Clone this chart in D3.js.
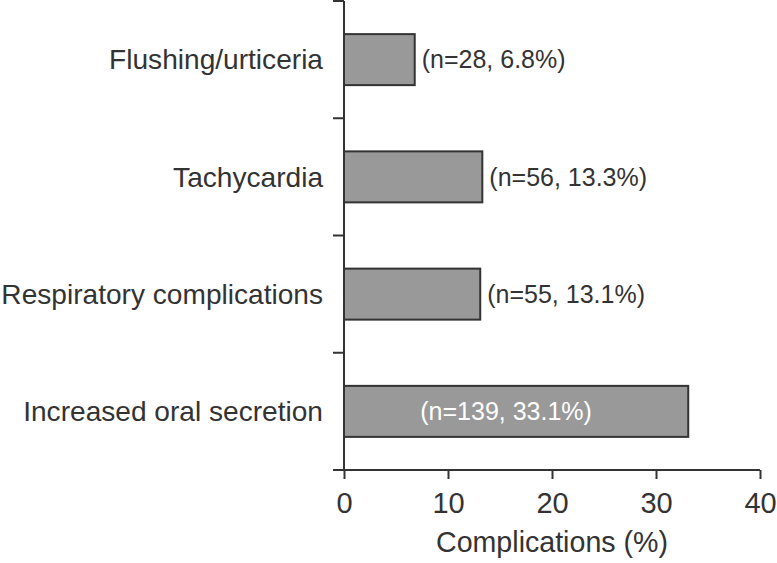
<!DOCTYPE html>
<html>
<head>
<meta charset="utf-8">
<script src="https://cdn.jsdelivr.net/npm/d3@7"></script>
<style>
  html, body { margin: 0; padding: 0; background: #fff; }
  svg { display: block; font-family: "Liberation Sans", Arial, Helvetica, sans-serif; }
</style>
</head>
<body>
<svg id="chart" width="777" height="563"></svg>
<script>
const categories = ["Flushing/urticeria", "Tachycardia", "Respiratory complications", "Increased oral secretion"];
const values = [6.8, 13.3, 13.1, 33.1];
const counts = [28, 56, 55, 139];
const xTicks = [0, 10, 20, 30, 40];
const xTitle = "Complications (%)";

const svg = d3.select("#chart");
const ink = "#333333";
const plotLeft = 344, plotRight = 760, plotTop = 1, plotBottom = 470;

const x = d3.scaleLinear().domain([0, 40]).range([plotLeft, plotRight]);
const y = d3.scaleBand().domain(categories).range([plotTop, plotBottom]).padding(0);
const barH = y.bandwidth() * 0.435;

// bars
svg.append("g").selectAll("rect").data(categories).join("rect")
  .attr("x", x(0))
  .attr("y", (d) => y(d) + (y.bandwidth() - barH) / 2)
  .attr("width", (d, i) => x(values[i]) - x(0))
  .attr("height", barH)
  .attr("fill", "#999999")
  .attr("stroke", ink)
  .attr("stroke-width", 2);

// y axis line
svg.append("line").attr("x1", plotLeft).attr("x2", plotLeft).attr("y1", plotTop).attr("y2", plotBottom)
  .attr("stroke", ink).attr("stroke-width", 2);
// y ticks at band boundaries
const boundaries = categories.map((d) => y(d)).concat([plotBottom]);
svg.append("g").selectAll("line").data(boundaries).join("line")
  .attr("x1", plotLeft - 11).attr("x2", plotLeft)
  .attr("y1", (d) => d).attr("y2", (d) => d)
  .attr("stroke", ink).attr("stroke-width", 2);

// x axis
const xAxis = d3.axisBottom(x).tickValues(xTicks).tickSize(9).tickPadding(13).tickFormat(d3.format("d"));
const gx = svg.append("g").attr("transform", `translate(0,${plotBottom})`).call(xAxis);
gx.select(".domain").remove();
gx.selectAll(".tick line").attr("stroke", ink).attr("stroke-width", 2);
gx.selectAll(".tick text").attr("fill", ink).attr("font-size", 29).attr("font-family", "Liberation Sans, Arial, sans-serif");
svg.append("line").attr("x1", plotLeft - 11).attr("x2", plotRight).attr("y1", plotBottom).attr("y2", plotBottom)
  .attr("stroke", ink).attr("stroke-width", 2);

// category labels
svg.append("g").selectAll("text").data(categories).join("text")
  .attr("x", plotLeft - 21)
  .attr("y", (d) => y(d) + y.bandwidth() / 2)
  .attr("dy", "0.35em")
  .attr("text-anchor", "end")
  .attr("font-size", 28.1)
  .attr("fill", ink)
  .text((d) => d);

// value labels
svg.append("g").selectAll("text").data(categories).join("text")
  .attr("x", (d, i) => values[i] > 30 ? x(values[i] / 2) - 10 : x(values[i]) + 7)
  .attr("y", (d) => y(d) + y.bandwidth() / 2)
  .attr("dy", "0.35em")
  .attr("text-anchor", (d, i) => values[i] > 30 ? "middle" : "start")
  .attr("font-size", 25)
  .attr("fill", (d, i) => values[i] > 30 ? "#ffffff" : ink)
  .text((d, i) => `(n=${counts[i]}, ${values[i].toFixed(1)}%)`);

// x title
svg.append("text")
  .attr("x", 552).attr("y", 552)
  .attr("text-anchor", "middle")
  .attr("font-size", 28.6)
  .attr("fill", ink)
  .text(xTitle);
</script>
</body>
</html>
